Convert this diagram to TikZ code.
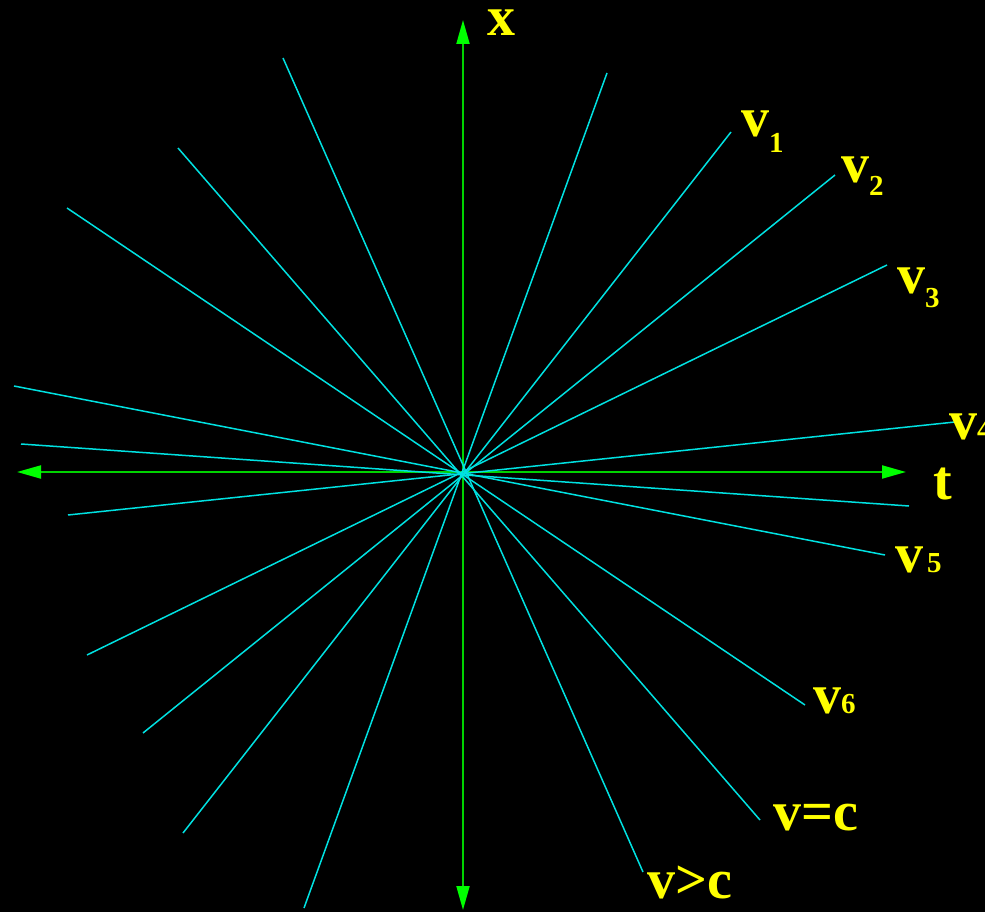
\documentclass[tikz,border=0pt]{standalone}
\usepackage{fontspec}
\setmainfont{Liberation Serif}
\usetikzlibrary{arrows.meta}
\definecolor{axisgreen}{RGB}{0,210,0}
\definecolor{tipgreen}{RGB}{0,255,0}
\definecolor{ray}{RGB}{0,225,225}
\definecolor{lab}{RGB}{255,255,0}
\newcommand{\subd}[2]{\raisebox{#1}{\fontsize{29}{29}\selectfont #2}}
\begin{document}
\begin{tikzpicture}[x=1pt,y=-1pt,
  axis/.style={axisgreen,line width=2pt,-{Triangle[length=24pt,width=13pt,fill=tipgreen,color=tipgreen]}},
  rayline/.style={ray,line width=1.5pt},
  lbl/.style={lab,anchor=base west,inner sep=0pt,font=\fontsize{56}{60}\selectfont\bfseries}]
\fill[black] (0,0) rectangle (985,912);
\useasboundingbox (0,0) rectangle (985,912);
\coordinate (O) at (463,472);
% axes
\coordinate (xt) at (463,20);
\coordinate (xb) at (463,910);
\coordinate (tl) at (17,472);
\coordinate (tr) at (906,472);
\draw[axis] (O) -- (xt);
\draw[axis] (O) -- (xb);
\draw[axis] (O) -- (tl);
\draw[axis] (O) -- (tr);
% rays
\coordinate (a1) at (283,58);   \coordinate (b1) at (643,872);
\coordinate (a2) at (607,73);   \coordinate (b2) at (304,908);
\coordinate (a3) at (178,148);  \coordinate (b3) at (760,820);
\coordinate (a4) at (731,132);  \coordinate (b4) at (183,833);
\coordinate (a5) at (67,208);   \coordinate (b5) at (805,705);
\coordinate (a6) at (835,175);  \coordinate (b6) at (143,733);
\coordinate (a7) at (887,265);  \coordinate (b7) at (87,655);
\coordinate (a8) at (14,386);   \coordinate (b8) at (885,555);
\coordinate (a9) at (21,444);   \coordinate (b9) at (909,506);
\coordinate (a10) at (955,422); \coordinate (b10) at (68,515);
\foreach \i in {1,...,10} {\draw[rayline] (a\i) -- (b\i);}
% labels
\node[lbl] (lx) at (487,36) {x};
\node[lbl] (lt) at (933,499) {t};
\node[lbl] (l1) at (741,137) {v\subd{-16pt}{1}};
\node[lbl] (l2) at (841,183) {v\subd{-13pt}{2}};
\node[lbl] (l3) at (897,293) {v\subd{-14pt}{3}};
\node[lbl] (l4) at (949,439) {v\subd{0pt}{4}};
\node[lbl] (l5) at (895,572) {v\hspace{4pt}\subd{0pt}{5}};
\node[lbl] (l6) at (813,713) {v\subd{0pt}{6}};
\node[lbl] (lc) at (773,830) {v=c};
\node[lbl] (lg) at (647,898) {v>c};
\end{tikzpicture}
\end{document}
